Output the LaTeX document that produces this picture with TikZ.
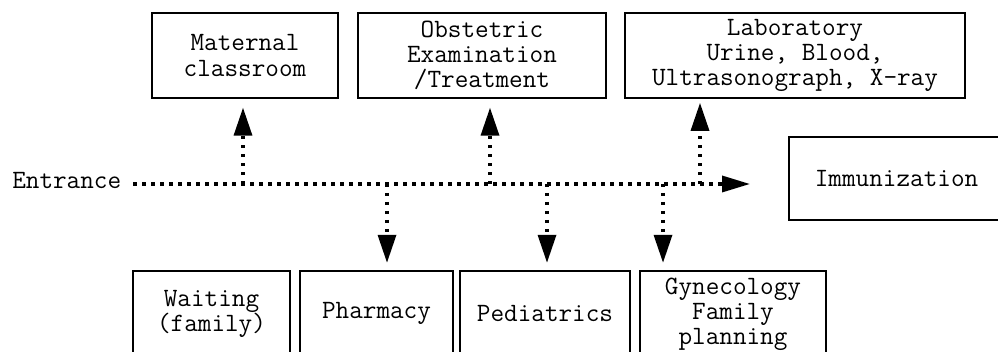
\documentclass[tikz,border=0pt]{standalone}
\usepackage{fontspec}
\usetikzlibrary{arrows.meta}

\begin{document}
\begin{tikzpicture}[x=0.025cm,y=-0.025cm,
    every node/.style={font=\ttfamily\fontsize{18.8}{17.8}\selectfont},
    sala/.style={draw,line width=1.2pt,align=center,inner sep=0pt,minimum height=2.125cm},
    abajo/.style={sala,anchor=north,minimum height=2.15cm},
    flujo/.style={line width=2.4pt,dash pattern=on 2.4pt off 4pt,
        -{Triangle[length=0.7cm,width=0.45cm]}}]
    \useasboundingbox (0,0) rectangle (998,352);

    % Salas de arriba
    \node[sala,minimum width=4.65cm] (mat) at (245,55.5) {Maternal\\classroom};
    \node[sala,minimum width=6.2cm] (obs) at (482,55.5) {Obstetric\\Examination\\/Treatment};
    \node[sala,minimum width=8.5cm] (lab) at (795,55.5) {Laboratory\\Urine, Blood,\\Ultrasonograph, X-ray};

    % Sala a la derecha (abierta por el borde)
    \node[sala,anchor=west,align=left,text width=5cm,inner xsep=0.65cm,minimum height=2.075cm]
        (imm) at (788,178.5) {Immunization};

    % Salas de abajo
    \node[abajo,minimum width=3.925cm] (wai) at (211.5,270) {Waiting\\(family)};
    \node[abajo,minimum width=3.825cm] (pha) at (376.5,270) {Pharmacy};
    \node[abajo,minimum width=4.25cm] (ped) at (545,270) {Pediatrics};
    \node[abajo,minimum width=4.65cm] (gyn) at (733,270) {Gynecology\\Family\\planning};

    % Entrada y pasillo
    \node[anchor=west,inner sep=0pt] (ent) at (12,181) {Entrance};
    \coordinate (fin) at (750,184);
    \draw[flujo,-{Triangle[length=0.7cm,width=0.4cm]}] ([xshift=0.3cm]ent.east |- fin) -- (fin);

    % Desvios hacia arriba
    \coordinate (j1) at (243,184);
    \coordinate (j2) at (490,184);
    \coordinate (j3) at (700,184);
    \draw[flujo,shorten >=0.22cm] (j1) -- (j1 |- mat.south);
    \draw[flujo,shorten >=0.22cm] (j2) -- (j2 |- obs.south);
    \draw[flujo,shorten >=0.1cm] (j3) -- (j3 |- lab.south);

    % Desvios hacia abajo
    \coordinate (k1) at (387,184);
    \coordinate (k2) at (547,184);
    \coordinate (k3) at (663,184);
    \draw[flujo,shorten >=0.18cm] (k1) -- (k1 |- pha.north);
    \draw[flujo,shorten >=0.18cm] (k2) -- (k2 |- ped.north);
    \draw[flujo,shorten >=0.18cm] (k3) -- (k3 |- gyn.north);
\end{tikzpicture}
\end{document}
